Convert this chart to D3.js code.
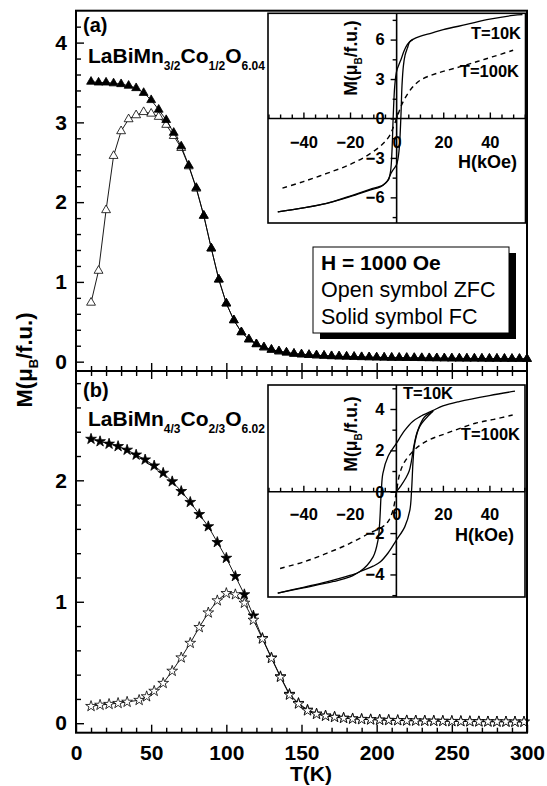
<!DOCTYPE html>
<html>
<head>
<meta charset="utf-8">
<script src="https://cdn.jsdelivr.net/npm/d3@7"></script>
<style>
  body { margin: 0; background: #fff; }
  text { font-family: 'Liberation Sans', Arial, sans-serif; }
</style>
</head>
<body>
<div id="chart"></div>
<script>
// ---- data ----
// (a) LaBiMn3/2Co1/2O6.04, H = 1000 Oe
const tA = [10,15,20,25,30,35,40,45,50,55,60,65,70,75,80,85,90,95,100,105,110,115,120,125,130,135,140,145,150,155,160,165,170,175,180,185,190,195,200,205,210,215,220,225,230,235,240,245,250,255,260,265,270,275,280,285,290,295,300];
const fcA = [3.51,3.50,3.50,3.49,3.48,3.46,3.43,3.37,3.28,3.16,3.03,2.87,2.70,2.46,2.18,1.83,1.42,1.03,0.73,0.52,0.37,0.28,0.22,0.18,0.15,0.13,0.115,0.10,0.092,0.085,0.08,0.075,0.07,0.067,0.064,0.061,0.058,0.056,0.054,0.052,0.05,0.049,0.048,0.047,0.046,0.045,0.044,0.043,0.042,0.041,0.04,0.04,0.039,0.038,0.038,0.037,0.036,0.036,0.035];
const zfcA = [0.74,1.14,1.90,2.58,2.89,3.04,3.09,3.13,3.11,3.07,2.97,2.83,2.68,2.45,2.17,1.83,1.42,1.03,0.73,0.52,0.37,0.28,0.22,0.18,0.15,0.13,0.115,0.10,0.092,0.085,0.08,0.075,0.07,0.067,0.064,0.061,0.058,0.056,0.054,0.052,0.05,0.049,0.048,0.047,0.046,0.045,0.044,0.043,0.042,0.041,0.04,0.04,0.039,0.038,0.038,0.037,0.036,0.036,0.035];

// (b) LaBiMn4/3Co2/3O6.02
const tBfc = [10,16,22,28,34,40,46,52,58,64,70,76,82,88,94,100,106,112,118,124,130,136,142,148,154,160,166,172,178,184,190,196,202,208,214,220,226,232,238,244,250,256,262,268,274,280,286,292,298];
const fcB = [2.34,2.32,2.30,2.28,2.25,2.21,2.17,2.12,2.06,1.99,1.91,1.82,1.72,1.62,1.49,1.36,1.21,1.06,0.885,0.70,0.54,0.385,0.24,0.165,0.11,0.078,0.062,0.052,0.044,0.038,0.034,0.031,0.028,0.026,0.024,0.022,0.021,0.02,0.019,0.018,0.017,0.016,0.015,0.014,0.013,0.013,0.012,0.012,0.011];
const tBzfc = [10,16,22,28,34,42,47,52,58,64,70,76,82,88,94,100,106,112,118,124,130,136,142,148,154,160,166,172,178,184,190,196,202,208,214,220,226,232,238,244,250,256,262,268,274,280,286,292,298];
const zfcB = [0.14,0.15,0.157,0.165,0.175,0.19,0.22,0.265,0.33,0.43,0.54,0.66,0.79,0.91,1.01,1.07,1.06,0.99,0.85,0.695,0.535,0.38,0.233,0.16,0.104,0.075,0.06,0.05,0.042,0.036,0.032,0.029,0.027,0.025,0.023,0.021,0.02,0.019,0.018,0.017,0.016,0.015,0.014,0.013,0.013,0.012,0.012,0.011,0.011];

// insets: M(H) loops, [H (kOe), M (muB/f.u.)]
const loopA10down = [[54,7.9],[50,7.84],[40,7.55],[30,7.15],[20,6.75],[15,6.5],[10,6.25],[7,6.02],[5.5,5.82],[4,5.45],[3,5.05],[2,4.55],[1,4.1],[0,3.6],[-0.8,2.5],[-1.5,0],[-2,-2.5],[-2.6,-4.0],[-3.6,-4.7],[-5.8,-5.06],[-11.5,-5.4],[-20,-5.9],[-30,-6.46],[-40,-6.8],[-51,-7.1]];
const loopA10up = [[-51,-7.1],[-40,-6.8],[-30,-6.46],[-20,-5.95],[-11.5,-5.45],[-7,-5.2],[-5,-4.95],[-3.5,-4.6],[-2.5,-4.2],[-1.5,-3.9],[0,-3.5],[1,-2.5],[1.8,0],[2.3,2.5],[2.9,4.0],[3.6,4.8],[4.6,5.35],[5.6,5.82],[7,6.02]];
const curveA100 = [[-49,-5.3],[-40,-4.8],[-30,-4.18],[-20,-3.5],[-12,-2.75],[-6,-1.95],[-3,-1.3],[-1.5,-0.7],[0,0],[1.5,0.75],[3,1.35],[6,2.2],[10,2.9],[17,3.42],[27,3.92],[35,4.35],[41,4.68],[50,5.19]];

const loopB10down = [[51,4.86],[40,4.65],[27,4.36],[20,4.15],[15.6,3.92],[10,3.62],[7,3.4],[3.5,2.95],[0,2.34],[-3.6,1.7],[-5.8,0.89],[-6.5,0],[-7.2,-1.53],[-7.9,-2.34],[-10,-3.15],[-15.8,-3.87],[-20,-4.05],[-30,-4.36],[-40,-4.62],[-51,-4.9]];
const loopB10up = [[-51,-4.9],[-40,-4.65],[-27,-4.34],[-20,-4.12],[-15.8,-3.87],[-10,-3.6],[-7,-3.4],[-3.5,-2.95],[0,-2.34],[3.6,-1.7],[5.8,-0.89],[6.5,0],[7.2,1.53],[7.9,2.34],[10,3.15],[15.8,3.9]];
const virginB10 = [[0,0],[2,0.3],[4,0.65],[5.5,1.0],[6.5,1.5],[7.5,2.2],[9,2.9],[12,3.6],[15.8,3.9]];
const curveB100 = [[-50,-3.71],[-40,-3.4],[-30,-2.98],[-20,-2.5],[-11.5,-2.0],[-6,-1.7],[-3.6,-1.45],[-1.5,-0.9],[0,0],[1.5,0.9],[3.6,1.45],[8.5,2.1],[14,2.5],[21.4,2.82],[34,3.31],[42,3.5],[50,3.71]];

// tick labels
const tTicks = [0,50,100,150,200,250,300];
const mTicksA = [0,1,2,3,4];
const mTicksB = [0,1,2];
const hTicks = [-40,-20,0,20,40];
const mInsetTicksA = [-6,-3,0,3,6];
const mInsetTicksB = [-4,-2,0,2,4];

// ---- drawing ----
const width = 547, height = 786;
const pLeft = 76, pRight = 527, pTop = 10.7, pMid = 371, pBottom = 732.7;
const font = "'Liberation Sans', Arial, sans-serif";

const svg = d3.select('#chart').append('svg')
    .attr('width', width)
    .attr('height', height);

let x = d3.scaleLinear().domain([0, 300]).range([pLeft, pRight]);
let yA = d3.scaleLinear().domain([-0.117, 4.4]).range([pMid, pTop]);
let yB = d3.scaleLinear().domain([-0.078, 2.9]).range([pBottom, pMid]);

function styleAxis(g, size) {
    g.select('.domain').remove();
    g.selectAll('line').attr('stroke', '#000').attr('stroke-width', 1.4);
    g.selectAll('text')
        .attr('fill', '#000')
        .style('font-family', font)
        .style('font-weight', 'bold')
        .style('font-size', size + 'px');
}

// left axes, ticks pointing in
function leftAxis(y, majors) {
    let minors = d3.range(0, y.domain()[1], 0.2).filter(v => majors.indexOf(Math.round(v * 10) / 10) < 0);
    svg.append('g')
        .attr('transform', `translate(${pLeft},0)`)
        .call(d3.axisLeft(y).tickValues(minors).tickSize(-5).tickFormat(''))
        .call(g => styleAxis(g, 21));
    svg.append('g')
        .attr('transform', `translate(${pLeft},0)`)
        .call(d3.axisLeft(y).tickValues(majors).tickSize(-8).tickPadding(9).tickFormat(d3.format('d')))
        .call(g => styleAxis(g, 21));
}
leftAxis(yA, mTicksA);
leftAxis(yB, mTicksB);

let tMinor = d3.range(10, 300, 10).filter(v => v % 50 != 0);
// bottom of (a): ticks crossing the divider
[-1, 1].forEach(s => {
    svg.append('g')
        .attr('transform', `translate(0,${pMid})`)
        .call(d3.axisBottom(x).tickValues(tMinor).tickSize(5 * s).tickFormat(''))
        .call(g => styleAxis(g, 21));
    svg.append('g')
        .attr('transform', `translate(0,${pMid})`)
        .call(d3.axisBottom(x).tickValues(tTicks.slice(1, -1)).tickSize(8 * s).tickFormat(''))
        .call(g => styleAxis(g, 21));
});
// bottom of (b)
svg.append('g')
    .attr('transform', `translate(0,${pBottom})`)
    .call(d3.axisBottom(x).tickValues(tMinor).tickSize(-5).tickFormat(''))
    .call(g => styleAxis(g, 21));
svg.append('g')
    .attr('transform', `translate(0,${pBottom})`)
    .call(d3.axisBottom(x).tickValues(tTicks).tickSize(-8).tickPadding(12))
    .call(g => styleAxis(g, 21));

// series
function series(t, m, y, type, filled, size) {
    let pts = t.map((d, i) => [d, m[i]]);
    svg.append('path')
        .datum(pts)
        .attr('fill', 'none')
        .attr('stroke', '#000')
        .attr('stroke-width', 0.9)
        .attr('d', d3.line().x(d => x(d[0])).y(d => y(d[1])));
    svg.append('g').selectAll('path')
        .data(pts)
        .enter()
        .append('path')
        .attr('transform', d => `translate(${x(d[0])},${y(d[1])})`)
        .attr('d', d3.symbol().type(type).size(size))
        .attr('fill', filled ? '#000' : '#fff')
        .attr('stroke', '#000')
        .attr('stroke-width', 0.8);
}
series(tA, zfcA, yA, d3.symbolTriangle, false, 34);
series(tA, fcA, yA, d3.symbolTriangle, true, 34);
series(tBfc, fcB, yB, d3.symbolStar, true, 36);
series(tBzfc, zfcB, yB, d3.symbolStar, false, 36);

// frame
svg.append('rect')
    .attr('x', pLeft).attr('y', pTop)
    .attr('width', pRight - pLeft).attr('height', pBottom - pTop)
    .attr('fill', 'none').attr('stroke', '#000').attr('stroke-width', 2);
svg.append('line')
    .attr('x1', pLeft).attr('x2', pRight).attr('y1', pMid).attr('y2', pMid)
    .attr('stroke', '#000').attr('stroke-width', 2);

// panel labels and formulas
function formula(xp, yp, parts) {
    let t = svg.append('text')
        .attr('x', xp).attr('y', yp)
        .attr('fill', '#000')
        .style('font-weight', 'bold')
        .style('font-size', '21px');
    let shift = 0;
    parts.forEach(p => {
        let sub = p[1];
        let dy = (sub ? 7 : 0) - shift;
        shift = sub ? 7 : 0;
        t.append('tspan')
            .attr('dy', dy)
            .style('font-size', sub ? '12px' : '21px')
            .text(p[0]);
    });
}
svg.append('text').attr('x', 83).attr('y', 32)
    .style('font-weight', 'bold').style('font-size', '20px').text('(a)');
svg.append('text').attr('x', 83).attr('y', 397)
    .style('font-weight', 'bold').style('font-size', '20px').text('(b)');
formula(88, 63, [['LaBiMn', 0], ['3/2', 1], ['Co', 0], ['1/2', 1], ['O', 0], ['6.04', 1]]);
formula(88, 426, [['LaBiMn', 0], ['4/3', 1], ['Co', 0], ['2/3', 1], ['O', 0], ['6.02', 1]]);

// axis titles
let yl = svg.append('text')
    .attr('transform', 'translate(32,360) rotate(-90)')
    .attr('text-anchor', 'middle')
    .style('font-weight', 'bold')
    .style('font-size', '22px');
yl.append('tspan').text('M(\u03bc');
yl.append('tspan').attr('dy', 6).style('font-size', '13px').text('B');
yl.append('tspan').attr('dy', -6).text('/f.u.)');

svg.append('text')
    .attr('x', 311).attr('y', 781)
    .attr('text-anchor', 'middle')
    .style('font-weight', 'bold')
    .style('font-size', '21px')
    .text('T(K)');

// legend box
svg.append('rect').attr('x', 320).attr('y', 253).attr('width', 196).attr('height', 86).attr('fill', '#000');
svg.append('rect').attr('x', 313).attr('y', 247).attr('width', 196).attr('height', 86)
    .attr('fill', '#fff').attr('stroke', '#000').attr('stroke-width', 1);
svg.append('text').attr('x', 321).attr('y', 270)
    .style('font-weight', 'bold').style('font-size', '21px').text('H = 1000 Oe');
svg.append('text').attr('x', 321).attr('y', 297)
    .style('font-size', '21.5px').text('Open symbol ZFC');
svg.append('text').attr('x', 321).attr('y', 323.5)
    .style('font-size', '21.5px').text('Solid symbol FC');

// insets
function inset(box, mDom, mTicks, mMinorStep, loops, dashed, labels) {
    let g = svg.append('g');
    let hx = d3.scaleLinear().domain([-55.2, 55.3]).range([box.x0, box.x1]);
    let my = d3.scaleLinear().domain(mDom).range([box.y1, box.y0]);

    g.append('rect')
        .attr('x', box.x0).attr('y', box.y0)
        .attr('width', box.x1 - box.x0).attr('height', box.y1 - box.y0)
        .attr('fill', '#fff').attr('stroke', '#000').attr('stroke-width', 1.6);

    // H axis along M = 0, ticks up
    let hMinor = d3.range(-55, 56, 5).filter(v => v % 20 != 0);
    g.append('g')
        .attr('transform', `translate(0,${my(0)})`)
        .call(d3.axisBottom(hx).tickValues(hMinor).tickSize(-4).tickFormat(''))
        .call(a => styleAxis(a, 16));
    g.append('g')
        .attr('transform', `translate(0,${my(0)})`)
        .call(d3.axisBottom(hx).tickValues(hTicks).tickSize(-6).tickPadding(labels.hPad))
        .call(a => styleAxis(a, 16.5));
    g.append('line')
        .attr('x1', box.x0).attr('x2', box.x1).attr('y1', my(0)).attr('y2', my(0))
        .attr('stroke', '#000').attr('stroke-width', 1.6);

    // M axis along H = 0, ticks left
    let mMinor = d3.range(-mMinorStep * 9, mMinorStep * 9.5, mMinorStep)
        .filter(v => mTicks.indexOf(v) < 0 && v > mDom[0] && v < mDom[1]);
    g.append('g')
        .attr('transform', `translate(${hx(0)},0)`)
        .call(d3.axisLeft(my).tickValues(mMinor).tickSize(4).tickFormat(''))
        .call(a => styleAxis(a, 16));
    g.append('g')
        .attr('transform', `translate(${hx(0)},0)`)
        .call(d3.axisLeft(my).tickValues(mTicks).tickSize(6).tickPadding(6))
        .call(a => styleAxis(a, 16.5));
    g.append('line')
        .attr('x1', hx(0)).attr('x2', hx(0)).attr('y1', box.y0).attr('y2', box.y1)
        .attr('stroke', '#000').attr('stroke-width', 1.6);

    let line = d3.line().x(d => hx(d[0])).y(d => my(d[1])).curve(d3.curveCatmullRom.alpha(0.5));
    loops.forEach(l => {
        g.append('path').datum(l)
            .attr('fill', 'none').attr('stroke', '#000').attr('stroke-width', 1.3)
            .attr('d', line);
    });
    g.append('path').datum(dashed)
        .attr('fill', 'none').attr('stroke', '#000').attr('stroke-width', 1.4)
        .attr('stroke-dasharray', '5,4')
        .attr('d', line);

    let yt = g.append('text')
        .attr('transform', `translate(${labels.mx},${labels.my}) rotate(-90)`)
        .attr('text-anchor', 'middle')
        .style('font-weight', 'bold')
        .style('font-size', '17.5px');
    yt.append('tspan').text('M(\u03bc');
    yt.append('tspan').attr('dy', 5).style('font-size', '10px').text('B');
    yt.append('tspan').attr('dy', -5).text('/f.u.)');

    labels.texts.forEach(t => {
        g.append('text')
            .attr('x', t[1]).attr('y', t[2])
            .attr('text-anchor', 'end')
            .style('font-weight', 'bold')
            .style('font-size', t[3] + 'px')
            .text(t[0]);
    });
}

inset({x0: 268, x1: 525.5, y0: 13.3, y1: 223}, [-7.95, 8.0], mInsetTicksA, 1.5,
    [loopA10down, loopA10up], curveA100,
    {hPad: 18, mx: 357, my: 58,
     texts: [['T=10K', 521, 38.5, 16.5], ['T=100K', 519, 76.5, 16.5], ['H(kOe)', 517, 168, 18]]});

inset({x0: 268, x1: 525, y0: 385, y1: 597}, [-5.09, 5.16], mInsetTicksB, 1,
    [loopB10down, loopB10up, virginB10], curveB100,
    {hPad: 16.5, mx: 357, my: 434,
     texts: [['T=10K', 453, 398.5, 16.5], ['T=100K', 520, 439.5, 16.5], ['H(kOe)', 514, 541, 18]]});
</script>
</body>
</html>
